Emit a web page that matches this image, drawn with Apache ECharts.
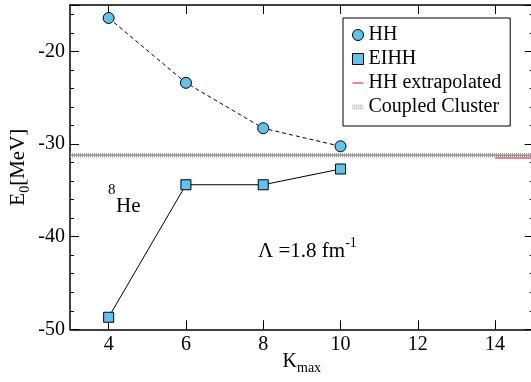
<!DOCTYPE html>
<html>
<head>
<meta charset="utf-8">
<script src="https://cdn.jsdelivr.net/npm/echarts@6/dist/echarts.min.js"></script>
<style>
html,body{margin:0;padding:0;background:#fff;}
#c{width:531px;height:382px;}
</style>
</head>
<body>
<div id="c"></div>
<script>
var kmax = [4, 6, 8, 10];
var hhValues = [-16.4, -23.4, -28.3, -30.25];
var eihhValues = [-48.7, -34.4, -34.4, -32.7];
var hhExtrapX = [14, 15];
var hhExtrapValue = -31.5;
var ccX = [3, 15];
var ccValue = -31.2;
var xTicks = [4, 6, 8, 10, 12, 14];

var FF = 'Liberation Serif';
var blue = '#5cc4ee';

function pairs(xs, ys) { return xs.map(function (x, i) { return [x, ys[i]]; }); }
function flat(xs, v) { return xs.map(function (x) { return [x, v]; }); }

var chart = echarts.init(document.getElementById('c'));
var axisLine = { show: true, onZero: false, lineStyle: { color: '#000', width: 1.5 } };
chart.setOption({
  animation: false,
  backgroundColor: '#fff',
  grid: { left: 70, top: 5, width: 463.7, height: 324.3, containLabel: false, outerBoundsMode: 'none' },
  legend: {
    orient: 'vertical', left: 343, top: 18,
    padding: [7, 9, 9, 9], itemGap: 4, itemWidth: 11, itemHeight: 11,
    backgroundColor: '#fff', borderColor: '#000', borderWidth: 1,
    textStyle: { fontFamily: FF, fontSize: 20, color: '#000' },
    data: [
      { name: 'HH', icon: 'circle', itemStyle: { color: blue, borderColor: '#000', borderWidth: 1 } },
      { name: 'EIHH', icon: 'rect', itemStyle: { color: blue, borderColor: '#000', borderWidth: 1 } },
      { name: 'HH extrapolated', icon: 'path://M0,0L12,0L12,1.6L0,1.6Z', itemStyle: { color: '#f05a5a', borderWidth: 0 } },
      { name: 'Coupled Cluster', icon: 'path://M0,0h1v1h-1zM2,0h1v1h-1zM4,0h1v1h-1zM6,0h1v1h-1zM8,0h1v1h-1zM10,0h1v1h-1zM0,2h12v0.8h-12zM0,3.8h1v1h-1zM2,3.8h1v1h-1zM4,3.8h1v1h-1zM6,3.8h1v1h-1zM8,3.8h1v1h-1zM10,3.8h1v1h-1z', itemStyle: { color: '#888', borderWidth: 0 } }
    ]
  },
  xAxis: [{
    type: 'value', min: 3, max: 15, position: 'bottom',
    axisLine: axisLine,
    axisTick: { show: true, inside: true, length: 9, customValues: xTicks, lineStyle: { color: '#000', width: 1 } },
    axisLabel: { customValues: xTicks, fontFamily: FF, fontSize: 20, color: '#000', margin: 5 },
    splitLine: { show: false },
    name: '{k|K}{s|max}', nameLocation: 'middle', nameGap: 18, nameMoveOverlap: false,
    nameTextStyle: { fontFamily: FF, fontSize: 20, color: '#000',
      rich: { k: { fontFamily: FF, fontSize: 20, color: '#000' },
              s: { fontFamily: FF, fontSize: 14, color: '#000', verticalAlign: 'bottom', padding: [14, 0, 0, 0] } } }
  }, {
    type: 'value', min: 3, max: 15, position: 'top',
    axisLine: axisLine,
    axisTick: { show: true, inside: true, length: 9, customValues: xTicks, lineStyle: { color: '#000', width: 1 } },
    axisLabel: { show: false }, splitLine: { show: false }
  }],
  yAxis: [{
    type: 'value', min: -50, max: -15, interval: 10, position: 'left',
    axisLine: axisLine,
    axisTick: { show: true, inside: true, length: 9, lineStyle: { color: '#000', width: 1 } },
    minorTick: { show: true, splitNumber: 5, length: 4, lineStyle: { color: '#000', width: 1 } },
    axisLabel: { fontFamily: FF, fontSize: 20, color: '#000', margin: 5, showMaxLabel: false },
    splitLine: { show: false }, minorSplitLine: { show: false },
    name: '{e|E}{s|0}{e|[MeV]}', nameLocation: 'middle', nameGap: 38, nameRotate: 90, nameMoveOverlap: false,
    nameTextStyle: { fontFamily: FF, fontSize: 21, color: '#000',
      rich: { e: { fontFamily: FF, fontSize: 21, color: '#000' },
              s: { fontFamily: FF, fontSize: 14, color: '#000', verticalAlign: 'bottom', padding: [14, 0, 0, 0] } } }
  }, {
    type: 'value', min: -50, max: -15, interval: 10, position: 'right',
    axisLine: axisLine,
    axisTick: { show: true, inside: true, length: 9, lineStyle: { color: '#000', width: 1 } },
    minorTick: { show: true, splitNumber: 5, length: 4, lineStyle: { color: '#000', width: 1 } },
    axisLabel: { show: false }, splitLine: { show: false }
  }],
  series: [
    { name: 'Coupled Cluster', type: 'line', data: flat(ccX, ccValue - 0.15), symbol: 'none', z: 1,
      lineStyle: { color: '#999', width: 1.5, type: [1, 1] } },
    { name: 'Coupled Cluster', type: 'line', data: flat(ccX, ccValue), symbol: 'none', z: 1,
      lineStyle: { color: '#555', width: 1 } },
    { name: 'Coupled Cluster', type: 'line', data: flat(ccX, ccValue + 0.15), symbol: 'none', z: 1,
      lineStyle: { color: '#999', width: 1.5, type: [1, 1] } },
    { name: 'HH extrapolated', type: 'line', data: flat(hhExtrapX, hhExtrapValue), symbol: 'none', z: 2,
      lineStyle: { color: '#f05a5a', width: 1.5 } },
    { name: 'HH', type: 'line', data: pairs(kmax, hhValues), symbol: 'circle', symbolSize: 11, z: 3,
      lineStyle: { color: '#000', width: 1, type: [4, 3] },
      itemStyle: { color: blue, borderColor: '#000', borderWidth: 1 } },
    { name: 'EIHH', type: 'line', data: pairs(kmax, eihhValues), symbol: 'rect', symbolSize: 10, z: 3,
      lineStyle: { color: '#000', width: 1 },
      itemStyle: { color: blue, borderColor: '#000', borderWidth: 1 } }
  ],
  graphic: [
    { type: 'text', left: 108, top: 183, style: { text: '{u|8}\n{b|He}', rich: {
        u: { fontFamily: FF, fontSize: 15, fill: '#000', lineHeight: 12 },
        b: { fontFamily: FF, fontSize: 21, fill: '#000', lineHeight: 20, padding: [0, 0, 0, 8] } } } },
    { type: 'text', left: 258, top: 236, style: { text: '{a|Λ =1.8 fm}{s|-1}', rich: {
        a: { fontFamily: FF, fontSize: 21, fill: '#000', verticalAlign: 'bottom', lineHeight: 26 },
        s: { fontFamily: FF, fontSize: 14, fill: '#000', verticalAlign: 'top', lineHeight: 26 } } } }
  ]
});
</script>
</body>
</html>
